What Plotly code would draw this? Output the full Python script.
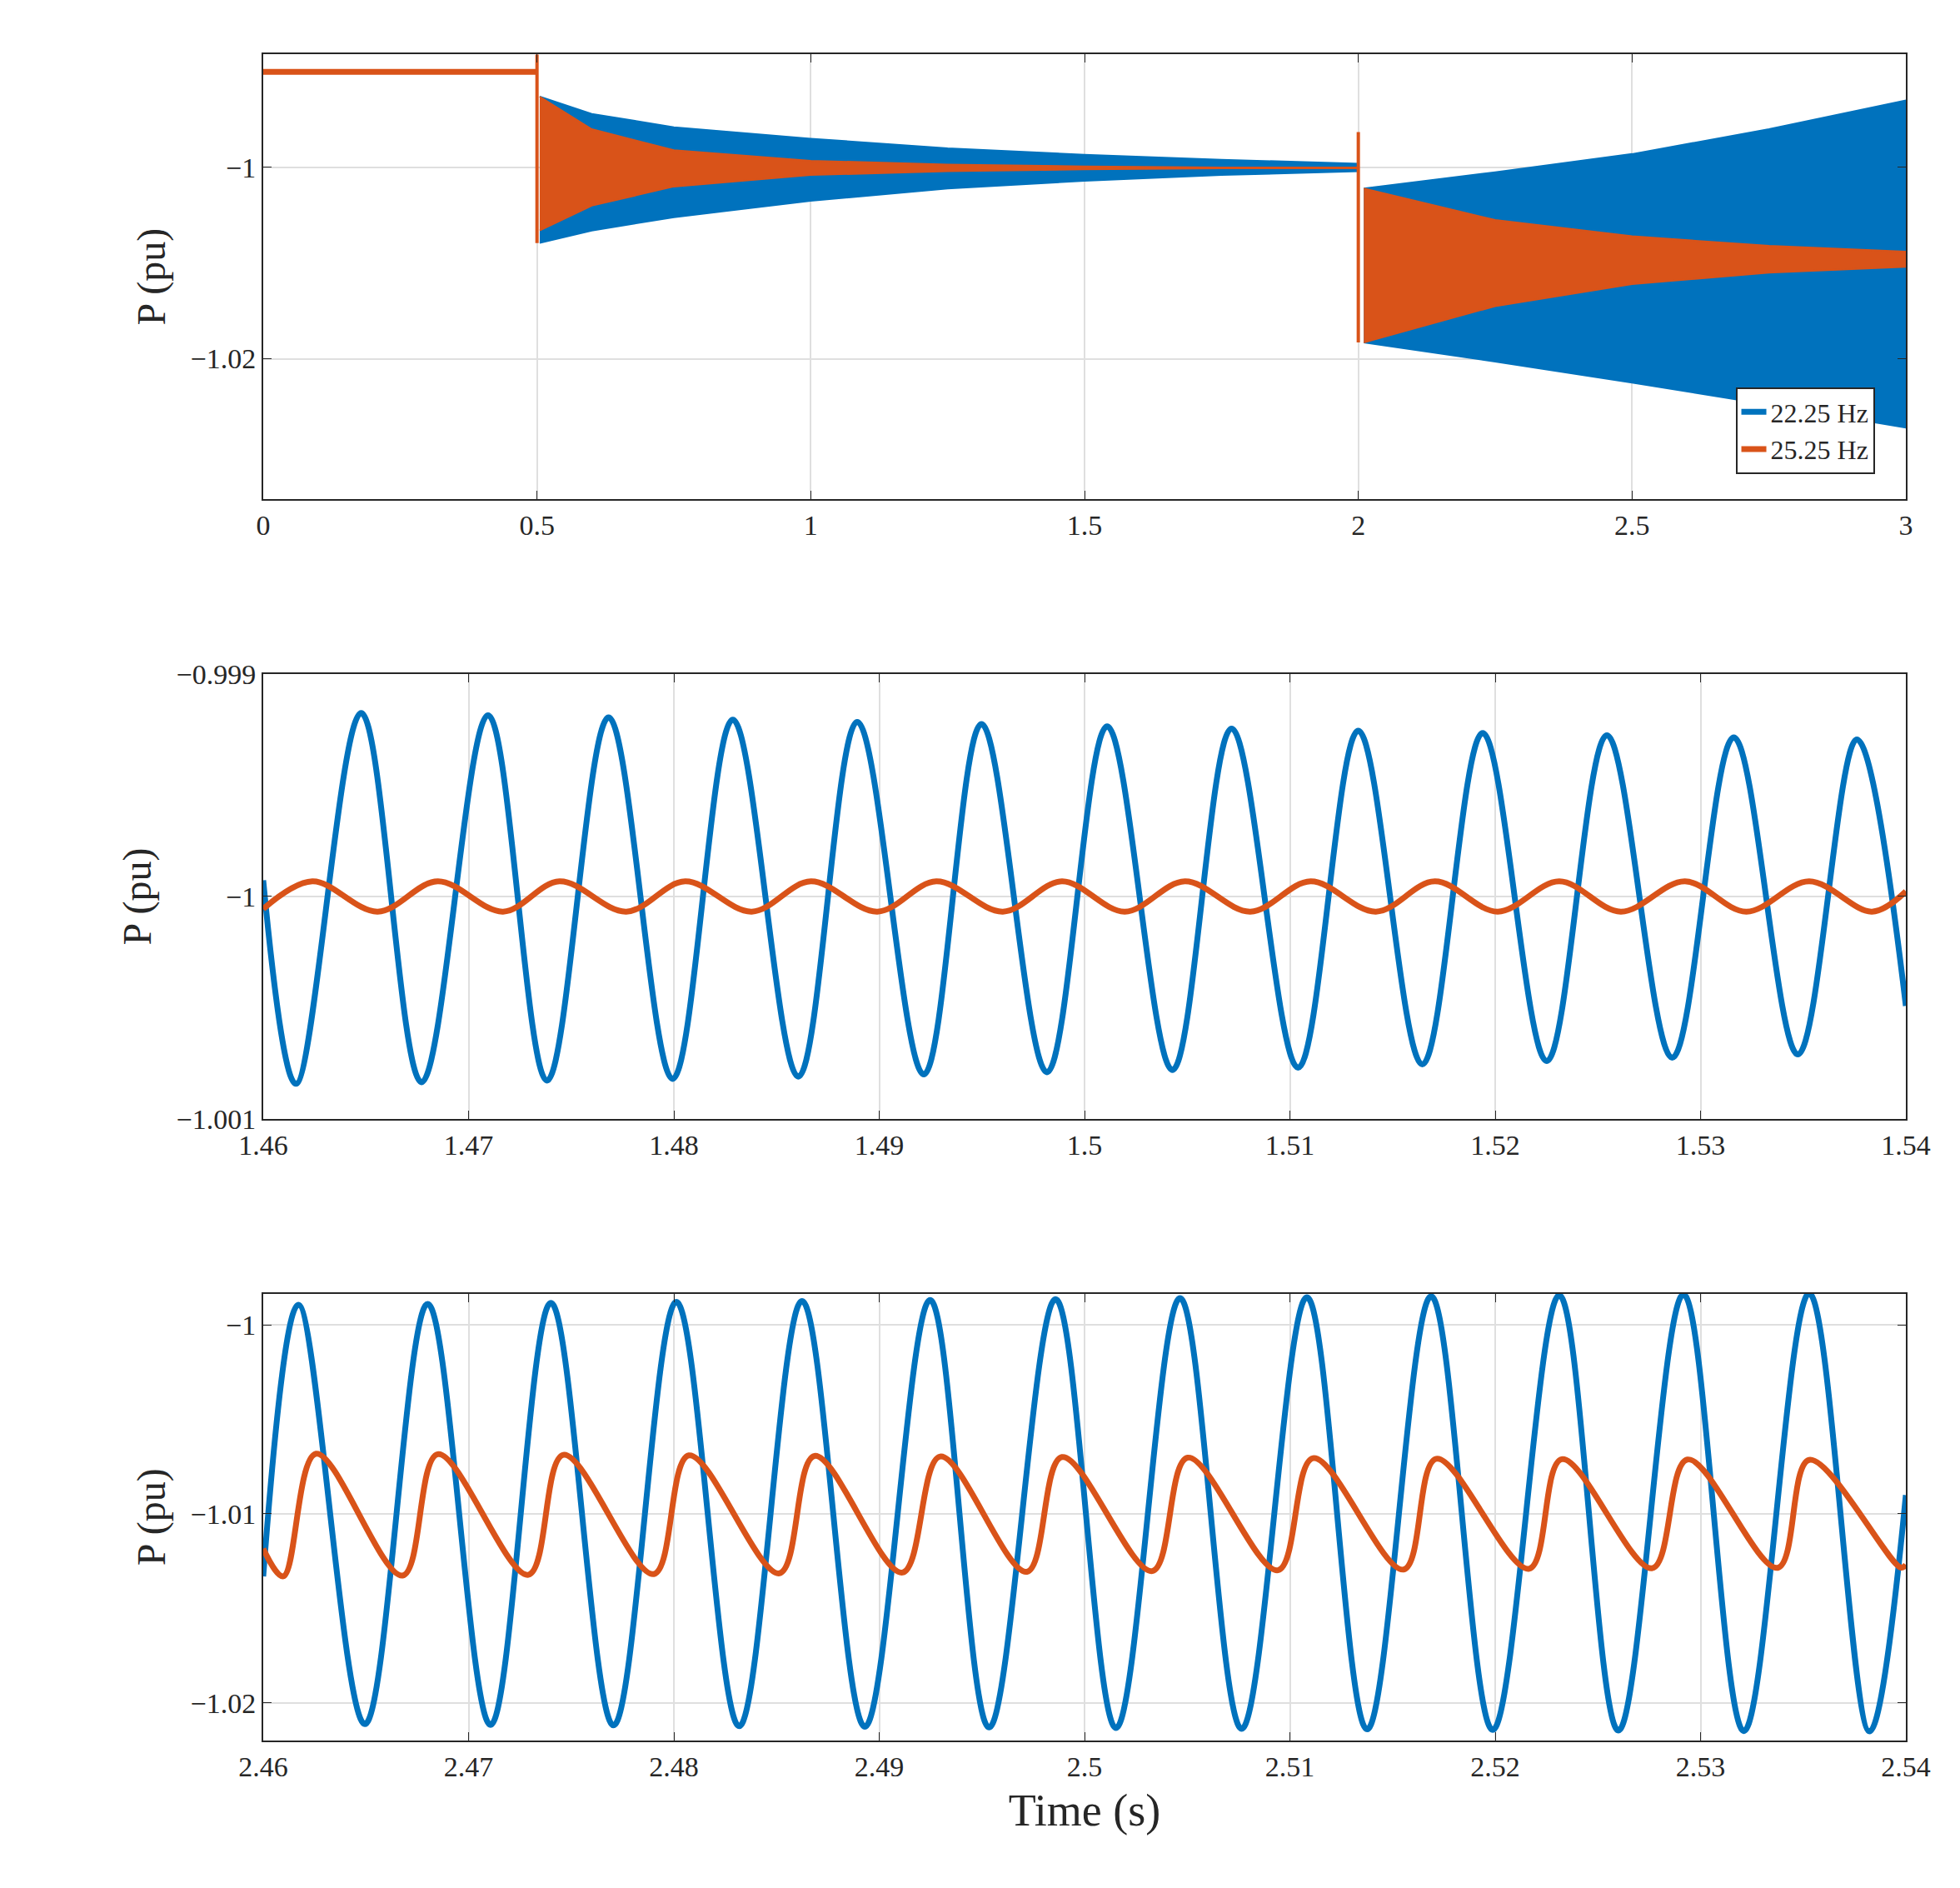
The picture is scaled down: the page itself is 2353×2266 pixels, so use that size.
import plotly.graph_objects as go

BLUE = "#0072BD"
ORANGE = "#D95319"

# top panel: envelopes of the fast oscillation (time, upper, lower)
pre_t = [0, 0.5]
pre_v = [-0.99, -0.99]

b1_t = [0.505, 0.6, 0.75, 1.0, 1.25, 1.5, 1.75, 2.0]
b1_up = [-0.9926, -0.9944, -0.9958, -0.9970, -0.9980, -0.99868, -0.9992, -0.9996]
b1_lo = [-1.0079, -1.0066, -1.0052, -1.0035, -1.0022, -1.0014, -1.0008, -1.0004]
o1_t = [0.505, 0.6, 0.75, 1.0, 1.25, 1.5, 1.75, 2.0]
o1_up = [-0.9926, -0.9960, -0.9982, -0.9993, -0.9997, -0.9999, -1.0000, -1.0000]
o1_lo = [-1.0066, -1.0040, -1.0020, -1.0008, -1.0004, -1.0002, -1.0001, -1.0001]

b2_t = [2.01, 2.25, 2.5, 2.75, 3.0]
b2_up = [-1.0022, -1.0005, -0.9986, -0.9960, -0.9930]
b2_lo = [-1.0183, -1.0203, -1.0225, -1.0248, -1.0272]
o2_up = [-1.0022, -1.0055, -1.0072, -1.0082, -1.0088]
o2_lo = [-1.0183, -1.0145, -1.0122, -1.0110, -1.0104]

spike_t = [0.5, 0.5, 0.5, 2.0, 2.0, 2.0]
spike_v = [-0.99, -0.9882, -1.0079, -1.0000, -0.9963, -1.0183]

# middle panel: extrema of the waveforms
mb_t = [1.46, 1.46159, 1.46477, 1.46771, 1.47095, 1.47382, 1.47682, 1.47994, 1.48287,
        1.48606, 1.48893, 1.49217, 1.49498, 1.49817, 1.50110, 1.50428, 1.50716,
        1.51040, 1.51333, 1.51645, 1.51939, 1.52251, 1.52544, 1.52862, 1.53162,
        1.53474, 1.53761, 1.54]
mb_v = [-0.999927, -1.000842, -0.999175, -1.000835, -0.999185, -1.000828, -0.999195,
        -1.000820, -0.999205, -1.000810, -0.999215, -1.000800, -0.999225, -1.000790,
        -0.999235, -1.000780, -0.999245, -1.000770, -0.999255, -1.000755, -0.999265,
        -1.000740, -0.999275, -1.000725, -0.999285, -1.000710, -0.999294, -1.000492]
mo_t = [1.46, 1.46239, 1.46557, 1.46850, 1.47168, 1.47443, 1.47768, 1.48055, 1.48379,
        1.48667, 1.48991, 1.49278, 1.49602, 1.49890, 1.50196, 1.50489, 1.50807,
        1.51101, 1.51419, 1.51706, 1.52012, 1.52312, 1.52612, 1.52924, 1.53223,
        1.53529, 1.53835, 1.54]
mo_v = [-1.000056, -0.999932, -1.000068, -0.999932, -1.000068, -0.999932, -1.000068,
        -0.999932, -1.000068, -0.999932, -1.000068, -0.999932, -1.000068, -0.999932,
        -1.000068, -0.999932, -1.000068, -0.999932, -1.000068, -0.999932, -1.000068,
        -0.999932, -1.000068, -0.999932, -1.000068, -0.999932, -1.000068, -0.999977]

# bottom panel
bb_t = [2.46, 2.46171, 2.46495, 2.46801, 2.47107, 2.47401, 2.47706, 2.48012, 2.48318,
        2.48624, 2.48930, 2.49248, 2.49535, 2.49859, 2.50153, 2.50465, 2.50765,
        2.51083, 2.51376, 2.51688, 2.51988, 2.52312, 2.52600, 2.52917, 2.53211,
        2.53529, 2.53823, 2.54]
bb_v = [-1.01331, -0.99894, -1.02113, -0.99889, -1.02117, -0.99884, -1.02120,
        -0.99879, -1.02124, -0.99874, -1.02127, -0.99869, -1.02131, -0.99864,
        -1.02134, -0.99859, -1.02138, -0.99854, -1.02141, -0.99849, -1.02144,
        -0.99844, -1.02147, -0.99839, -1.02150, -0.99834, -1.02152, -1.00901]
bo_t = [2.46, 2.46098, 2.46257, 2.46679, 2.46850, 2.47291, 2.47462, 2.47902, 2.48073,
        2.48514, 2.48685, 2.49113, 2.49297, 2.49719, 2.49890, 2.50330, 2.50502,
        2.50942, 2.51113, 2.51554, 2.51713, 2.52165, 2.52324, 2.52765, 2.52936,
        2.53376, 2.53529, 2.53976, 2.54]
bo_v = [-1.01185, -1.01331, -1.00682, -1.01327, -1.00685, -1.01323, -1.00688,
        -1.01319, -1.00691, -1.01315, -1.00694, -1.01311, -1.00697, -1.01307,
        -1.00700, -1.01303, -1.00703, -1.01299, -1.00706, -1.01295, -1.00709,
        -1.01291, -1.00711, -1.01288, -1.00713, -1.01286, -1.00715, -1.01285, -1.01270]

fig = go.Figure()


def band(t, up, lo, color, axis):
    fig.add_trace(go.Scatter(x=t + t[::-1], y=up + lo[::-1], fill="toself", fillcolor=color,
                             mode="lines", line=dict(color=color, width=2),
                             showlegend=False, xaxis="x" + axis, yaxis="y" + axis))


band(b1_t, b1_up, b1_lo, BLUE, "")
band(b2_t, b2_up, b2_lo, BLUE, "")
band(o1_t, o1_up, o1_lo, ORANGE, "")
band(b2_t, o2_up, o2_lo, ORANGE, "")
fig.add_trace(go.Scatter(x=pre_t, y=pre_v, mode="lines", line=dict(color=ORANGE, width=7),
                         showlegend=False))
fig.add_trace(go.Scatter(x=spike_t[:3], y=spike_v[:3], mode="lines",
                         line=dict(color=ORANGE, width=4), showlegend=False))
fig.add_trace(go.Scatter(x=spike_t[3:], y=spike_v[3:], mode="lines",
                         line=dict(color=ORANGE, width=4), showlegend=False))
# legend entries
fig.add_trace(go.Scatter(x=[None], y=[None], mode="lines", line=dict(color=BLUE, width=7),
                         name="22.25 Hz"))
fig.add_trace(go.Scatter(x=[None], y=[None], mode="lines", line=dict(color=ORANGE, width=7),
                         name="25.25 Hz"))

for t, v, c in [(mb_t, mb_v, BLUE), (mo_t, mo_v, ORANGE)]:
    fig.add_trace(go.Scatter(x=t, y=v, mode="lines", line=dict(color=c, width=7, shape="spline",
                                                               smoothing=1.0),
                             showlegend=False, xaxis="x2", yaxis="y2"))
for t, v, c in [(bb_t, bb_v, BLUE), (bo_t, bo_v, ORANGE)]:
    fig.add_trace(go.Scatter(x=t, y=v, mode="lines", line=dict(color=c, width=7, shape="spline",
                                                               smoothing=1.0),
                             showlegend=False, xaxis="x3", yaxis="y3"))

FONT = "Liberation Serif"
ax = dict(showline=True, linecolor="#262626", linewidth=2, mirror="ticks", ticks="inside",
          ticklen=10, tickcolor="#262626", showgrid=True, gridcolor="#DFDFDF", gridwidth=2,
          zeroline=False, tickfont=dict(family=FONT, size=34, color="#262626"))
ytitle = dict(text="P (pu)", font=dict(family=FONT, size=48, color="#262626"))

fig.update_layout(
    width=2353, height=2266, plot_bgcolor="white", paper_bgcolor="white",
    margin=dict(l=308, r=73, t=57, b=185),
    xaxis=dict(ax, domain=[0, 1], range=[0, 3], tickvals=[0, 0.5, 1, 1.5, 2, 2.5, 3],
               ticktext=["0", "0.5", "1", "1.5", "2", "2.5", "3"], anchor="y"),
    yaxis=dict(ax, domain=[0.736, 1], range=[-1.0347, -0.98816], tickvals=[-1, -1.02],
               title=ytitle, anchor="x"),
    xaxis2=dict(ax, domain=[0, 1], range=[1.46, 1.54],
                tickvals=[1.46, 1.47, 1.48, 1.49, 1.5, 1.51, 1.52, 1.53, 1.54], anchor="y2"),
    yaxis2=dict(ax, domain=[0.3686, 0.6324], range=[-1.001, -0.999],
                tickvals=[-0.999, -1, -1.001], ticktext=["−0.999", "−1", "−1.001"],
                title=ytitle, anchor="x2"),
    xaxis3=dict(ax, domain=[0, 1], range=[2.46, 2.54],
                tickvals=[2.46, 2.47, 2.48, 2.49, 2.5, 2.51, 2.52, 2.53, 2.54], anchor="y3",
                title=dict(text="Time (s)", font=dict(family=FONT, size=54, color="#262626"))),
    yaxis3=dict(ax, domain=[0, 0.265], range=[-1.022, -0.99835],
                tickvals=[-1, -1.01, -1.02], ticktext=["−1", "−1.01", "−1.02"],
                title=ytitle, anchor="x3"),
    legend=dict(x=0.981, y=0.751, xanchor="right", yanchor="bottom", bgcolor="white",
                bordercolor="#262626", borderwidth=2,
                font=dict(family=FONT, size=32, color="#262626")),
)

fig.write_html("out.html")
